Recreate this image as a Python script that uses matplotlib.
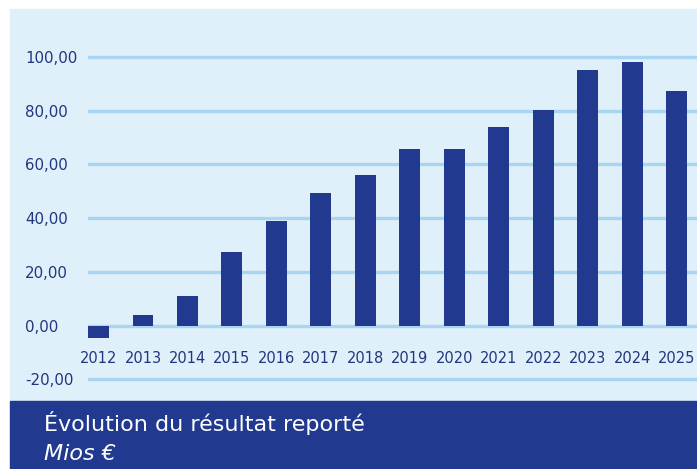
import matplotlib
matplotlib.use("Agg")
import matplotlib.pyplot as plt
from matplotlib.patches import Rectangle

# reported result, millions of EUR
years = [str(y) for y in range(2012, 2026)]
values = [-4.5, 3.9, 11.0, 27.5, 38.9, 49.3, 56.0, 65.8, 65.8, 74.0, 80.3, 95.2, 98.2, 87.4]
y_ticks = [-20, 0, 20, 40, 60, 80, 100]
y_labels = ["-20,00", "0,00", "20,00", "40,00", "60,00", "80,00", "100,00"]
title = "Évolution du résultat reporté"
subtitle = "Mios €"

NAVY = "#213a8f"
TEXT = "#22357f"
PANEL = "#dff0fa"
GRID = "#a9d5f2"

W, H = 697, 469
fig = plt.figure(figsize=(W / 100, H / 100), dpi=100)

# background panel + bottom band (pixel coords from top-left)
fig.patches.append(Rectangle((10 / W, 1 - 401 / H), 1 - 10 / W, (401 - 9) / H,
                             transform=fig.transFigure, color=PANEL, zorder=-2))
fig.patches.append(Rectangle((10 / W, 0), 1 - 10 / W, 1 - 401 / H,
                             transform=fig.transFigure, color=NAVY, zorder=-2))

ax = fig.add_axes([88 / W, 1 - 401 / H, 1 - 88 / W, (401 - 9) / H])
ax.set_facecolor("none")
ax.set_zorder(1)

x = list(range(len(years)))
ax.bar(x, values, width=0.47, color=NAVY, zorder=3)

ax.set_xlim(-0.236, 13.46)
ax.set_ylim(-28.1, 117.9)

ax.set_yticks(y_ticks, y_labels)
ax.grid(axis="y", color=GRID, linewidth=2.4, zorder=1)
ax.set_axisbelow(True)
ax.tick_params(axis="y", length=0, pad=45.3, labelsize=10.8, labelcolor=TEXT)
for lbl in ax.get_yticklabels():
    lbl.set_horizontalalignment("left")

ax.set_xticks(x, years)
ax.spines["bottom"].set_position(("data", -8.0))
ax.tick_params(axis="x", length=0, pad=3.0, labelsize=10.5, labelcolor=TEXT)
for s in ax.spines.values():
    s.set_visible(False)

fig.text(44 / W, 1 - 431 / H, title, color="white", fontsize=16, va="baseline", ha="left")
fig.text(44 / W, 1 - 460 / H, subtitle, color="white", fontsize=16, style="italic",
         va="baseline", ha="left")

fig.savefig("out.png", dpi=100, facecolor="white")
